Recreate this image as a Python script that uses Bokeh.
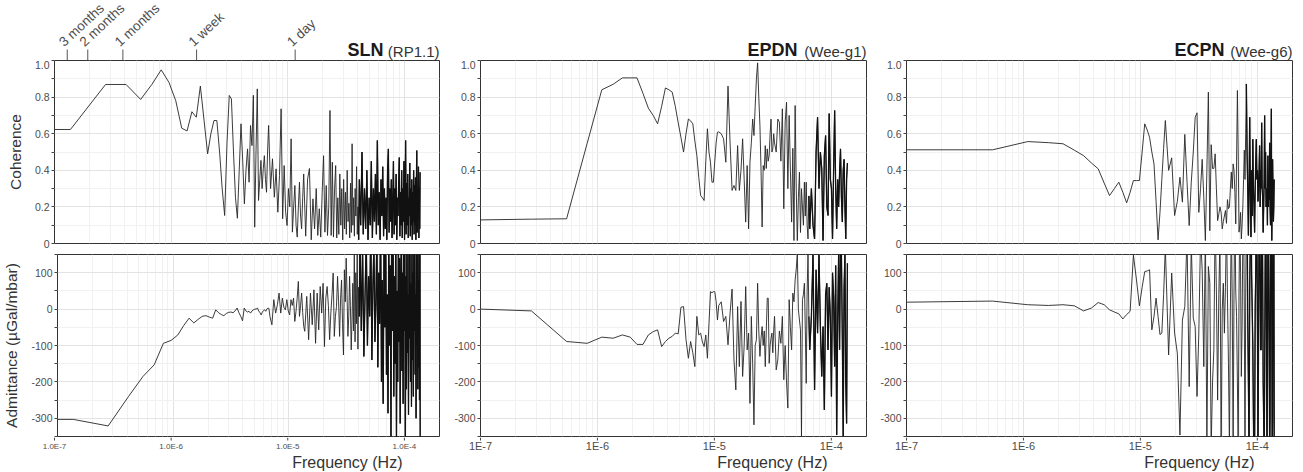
import math
from bokeh.plotting import figure
from bokeh.layouts import column, row
from bokeh.models import Range1d, FixedTicker, CustomJSTickFormatter
from bokeh.core.properties import value
from bokeh.embed import file_html
from bokeh.resources import INLINE

FONT = "Liberation Sans"
LINE = "#262626"
TXT = "#4d4d4d"

# ---------------- axis definitions ----------------
decade_ticks = [1e-7, 1e-6, 1e-5, 1e-4]
minor_mult = [2, 3, 4, 5, 6, 7, 8, 9]
period_days = [90, 60, 30, 7, 1]
period_labels = ["3 months", "2 months", "1 months", "1 week", "1 day"]
coh_ticks = [0, 0.2, 0.4, 0.6, 0.8, 1.0]
coh_minor = [0.1, 0.3, 0.5, 0.7, 0.9]
adm_ticks = [-300, -200, -100, 0, 100]
adm_minor = [-350, -250, -150, -50, 50, 150]

# ---------------- SLN (RP1.1) ----------------
sln_df = 1.37e-7
sln_k = [0.73] + list(range(1, 51)) + list(range(52, 101, 2)) + list(range(104, 301, 4)) + list(range(308, 1000, 8))
sln_coh = [0.623,
    0.623, 0.869, 0.869, 0.787, 0.87, 0.949, 0.88, 0.78, 0.63, 0.615,
    0.72, 0.69, 0.86, 0.67, 0.49, 0.6, 0.672, 0.672, 0.5, 0.3,
    0.153, 0.55, 0.809, 0.79, 0.5, 0.25, 0.138, 0.4, 0.654, 0.45,
    0.217, 0.4, 0.517, 0.335, 0.645, 0.535, 0.81, 0.089, 0.5, 0.845,
    0.235, 0.35, 0.454, 0.3, 0.408, 0.48, 0.35, 0.28, 0.5, 0.645,
    0.3, 0.463, 0.253, 0.408, 0.171, 0.372, 0.736, 0.135, 0.426, 0.171,
    0.098, 0.3, 0.2, 0.572, 0.062, 0.2, 0.317, 0.1, 0.035, 0.2,
    0.335, 0.15, 0.08, 0.25, 0.38,
    0.04, 0.353, 0.41, 0.02, 0.244, 0.08, 0.3, 0.044, 0.19, 0.035,
    0.28, 0.48, 0.062, 0.317, 0.044, 0.2, 0.727, 0.044, 0.444, 0.035,
    0.3, 0.426, 0.03, 0.25, 0.05, 0.38, 0.1, 0.3, 0.02, 0.35,
    0.08, 0.28, 0.05, 0.4, 0.12, 0.22, 0.03, 0.33, 0.06, 0.545,
    0.1, 0.25, 0.04, 0.3, 0.15, 0.42, 0.05, 0.2, 0.02, 0.35,
    0.1, 0.5, 0.05, 0.3, 0.08, 0.4, 0.02, 0.25, 0.1, 0.45,
    0.03, 0.3, 0.12, 0.38, 0.05, 0.563, 0.1, 0.28, 0.02, 0.35,
    0.15, 0.42, 0.04, 0.3, 0.08, 0.25, 0.02, 0.4, 0.517, 0.06,
    0.3, 0.12, 0.35, 0.03, 0.22, 0.45, 0.05, 0.3, 0.1, 0.38,
    0.02, 0.25, 0.15, 0.33, 0.47, 0.04, 0.28, 0.1, 0.4, 0.03,
    0.3, 0.12, 0.45, 0.02, 0.26, 0.563, 0.05, 0.33, 0.1, 0.38,
    0.03, 0.25, 0.15, 0.44, 0.04, 0.3, 0.1, 0.35, 0.02, 0.28,
    0.12, 0.4, 0.05, 0.32, 0.1, 0.36, 0.02, 0.3, 0.508, 0.06,
    0.27, 0.14, 0.42, 0.03, 0.3, 0.08, 0.39]
sln_adm = [-303,
    -303, -321, -240, -185, -153, -94, -86, -71, -45, -25,
    -38, -28, -20, -18, -22, -25, -2, -10, -15, -18,
    -12, -9, -8, -10, -5, 3, -10, -20, -32, 3,
    -5, -8, -6, -11, -5, -2, 0, 0, 3, -5,
    -10, -16, -8, -4, -2, -6, 0, 3, 2, -20,
    -43, 26, -11, 12, 44, -11, 30, 5, -2, 26,
    -5, -16, 26, 10, 30, -34, -6, 30, 76, -20,
    10, 44, -10, -48, -61,
    35, -84, 44, -43, 53, -94, 44, -57, 62, -11,
    71, -103, 30, 62, 10, -84, -11, 40, 99, -75,
    -20, 7, 90, 20, -75, 30, 80, -40, -126, 108,
    20, 140, 40, -75, -20, 90, 10, -112, -30, 71,
    -60, 160, -90, 100, -40, 180, -110, 60, -20, 200,
    -60, 170, -130, 40, 200, -100, 90, -20, 250, -140,
    60, 180, -90, 20, 220, -160, 100, -40, 300, -200,
    80, -260, 160, -50, 250, -180, 40, -286, 200, -100,
    120, -350, 300, -60, 180, -240, 90, -150, 260, -380,
    50, -200, 220, -90, 140, -314, 30, 280, -170, 100,
    -260, 200, -60, 160, -380, 90, -220, 300, -120, 40,
    -290, 250, -80, 150, -200, 70, -268, 220, -140, 100,
    -240, 180, -60, 260, -180, 40, -300, 150, -100, 200,
    -220, 80, -160, 240, -250, 400, -600]

# ---------------- EPDN (Wee-g1) ----------------
epdn_df = 2.725e-7
epdn_k = [0.367] + list(range(1, 41)) + list(range(42, 121, 2)) + list(range(124, 241, 4)) + list(range(248, 505, 8))
epdn_coh = [0.129,
    0.133, 0.135, 0.548, 0.84, 0.87, 0.905, 0.905, 0.905, 0.82, 0.74,
    0.7, 0.654, 0.75, 0.85, 0.84, 0.827, 0.75, 0.66, 0.58, 0.5,
    0.6, 0.68, 0.67, 0.654, 0.56, 0.48, 0.36, 0.262, 0.25, 0.235,
    0.45, 0.627, 0.5, 0.444, 0.335, 0.335, 0.45, 0.55, 0.608, 0.61,
    0.6, 0.572, 0.444, 0.86, 0.55, 0.29, 0.317, 0.29, 0.535, 0.29,
    0.4, 0.572, 0.35, 0.117, 0.426, 0.08, 0.444, 0.55, 0.68, 0.59,
    0.75, 0.9, 0.987, 0.8, 0.645, 0.4, 0.09, 0.426, 0.4, 0.535,
    0.41, 0.517, 0.45, 0.48, 0.6, 0.68, 0.5, 0.517, 0.6, 0.55,
    0.5, 0.68, 0.663, 0.45, 0.736, 0.19, 0.663, 0.772, 0.3, 0.7,
    0.4, 0.117, 0.52, 0.016, 0.754, 0.3, 0.016, 0.25, 0.39, 0.06,
    0.3, 0.2, 0.1, 0.335, 0.15, 0.335, 0.1, 0.025, 0.26, 0.08,
    0.3, 0.1, 0.025, 0.5, 0.69, 0.3, 0.5, 0.41, 0.016, 0.48,
    0.59, 0.2, 0.153, 0.71, 0.35, 0.3, 0.025, 0.4, 0.727, 0.3,
    0.08, 0.35, 0.2, 0.39, 0.517, 0.25, 0.117, 0.4, 0.46, 0.2,
    0.025, 0.35, 0.44]
epdn_adm = [0,
    -5, -89, -94, -77, -80, -71, -77, -97, -97, -71,
    -62, -57, -103, -89, -80, -75, -66, -68, 5, 7,
    -84, -135, -89, -120, -158, -20, -71, -66, -90, -103,
    -71, -135, -40, 48, 45, 48, 48, 21, -30, 10,
    20, -34, -20, -98, -11, 55, -140, -222, 7, -158,
    21, -185, -100, 62, -112, -66, -259, -20, -150, -318,
    -100, -84, 71, -60, -130, -80, -48, -100, -60, -158,
    -60, 30, 30, -149, -100, -80, -66, -120, -60, -20,
    -167, -140, -60, -94, -20, -194, -100, -200, -272, 26,
    -50, -112, 44, 20, 80, 110, 150, -2, -30, -57,
    -349, 26, 40, 71, -60, -204, 50, 150, -20, -112,
    -20, 150, -222, 108, -66, 150, -50, -185, -48, -277,
    40, 71, -112, 60, -20, -240, 100, 35, -158, 120,
    -346, -30, 150, -112, 200, 150, -80, -350, 60, 150,
    -200, -314, 126]

# ---------------- ECPN (Wee-g6) ----------------
ecpn_df = 5.45e-7
ecpn_k = [0.1835] + list(range(1, 31)) + list(range(32, 257, 2))
ecpn_coh = [0.512,
    0.512, 0.557, 0.551, 0.545, 0.51, 0.48, 0.44, 0.408, 0.33, 0.262,
    0.3, 0.335, 0.28, 0.222, 0.28, 0.344, 0.344, 0.344, 0.5, 0.654,
    0.62, 0.58, 0.5, 0.435, 0.23, 0.02, 0.17, 0.35, 0.52, 0.672,
    0.4, 0.468, 0.153, 0.23, 0.362, 0.226, 0.596, 0.335, 0.098, 0.335,
    0.5, 0.69, 0.714, 0.17, 0.3, 0.46, 0.25, 0.016, 0.4, 0.827,
    0.07, 0.54, 0.41, 0.41, 0.49, 0.3, 0.125, 0.16, 0.2, 0.17,
    0.08, 0.12, 0.15, 0.18, 0.11, 0.24, 0.19, 0.2, 0.3, 0.39,
    0.3, 0.435, 0.4, 0.28, 0.107, 0.45, 0.836, 0.5, 0.062, 0.1,
    0.17, 0.025, 0.1, 0.2, 0.35, 0.51, 0.35, 0.6, 0.872, 0.5,
    0.3, 0.044, 0.3, 0.69, 0.3, 0.035, 0.4, 0.15, 0.57, 0.3,
    0.2, 0.06, 0.3, 0.45, 0.57, 0.35, 0.4, 0.23, 0.3, 0.4,
    0.535, 0.2, 0.4, 0.3, 0.66, 0.3, 0.25, 0.06, 0.2, 0.35,
    0.7, 0.3, 0.5, 0.2, 0.23, 0.3, 0.1, 0.48, 0.2, 0.35,
    0.24, 0.55, 0.2, 0.1, 0.4, 0.736, 0.016, 0.25, 0.46, 0.3,
    0.12, 0.2, 0.35]
ecpn_adm = [19,
    22, 12, 10, 12, 9, -5, 3, 18, 12, -2,
    -8, -13, -27, -15, -6, 148, 80, 9, 60, 103,
    105, 108, -57, -20, 30, -20, -70, -66, 40, 170,
    -126, 99, -66, -121, -346, -30, 7, 200, -213, 180,
    -25, -48, -240, -66, 200, 108, -158, 220, -380, 117,
    71, -380, -200, -112, 250, 50, -250, 40, 200, -400,
    0, 71, -66, 60, 250, 30, -149, -380, 0, 250,
    30, -400, 50, 300, 50, -20, -200, -400, 50, 250,
    100, -185, -50, 200, 300, 0, -400, 20, 250, 300,
    -20, -200, -400, 50, 200, 400, 100, 0, -100, -300,
    -450, -400, 0, 100, 300, 200, -50, -400, -100, 250,
    300, 100, -112, -112, 250, 300, 100, -200, -300, -400,
    -200, 100, 300, 200, -100, -400, -200, 200, 350, 100,
    -100, -400, -300, 100, 250, 350, 0, -400, -300, 200,
    300, 400, -400]

# name, subtitle, df, k, coh, adm, title x-shift, freq-label x-shift, tick prefix,
# tick font size, tick label y, harmonic where the trace becomes dense
stations = [
    ("SLN", "(RP1.1)", sln_df, sln_k, sln_coh, sln_adm, -56, -37, "1.0E", "8px", 26, 300),
    ("EPDN", "(Wee-g1)", epdn_df, epdn_k, epdn_coh, epdn_adm, -69, -39, "1E", "11px", 27, 240),
    ("ECPN", "(Wee-g6)", ecpn_df, ecpn_k, ecpn_coh, ecpn_adm, -68, -38, "1E", "11px", 27, 150),
]

widths = [449, 427, 427]
lefts = [54, 31, 30]
rights = [10, 10, 11]
HEAD_H = 60
TOP_H = 188
BOT_H = 189
FOOT_H = 35
XR = (1e-7, 2e-4)
LOG_LO, LOG_HI = math.log10(XR[0]), math.log10(XR[1])

x_minor = [m * d for d in decade_ticks for m in minor_mult]


def strip_fig(i, h):
    # full-width strip sharing the panel's log scale (frame spans the whole strip)
    L = lefts[i]
    R = widths[i] - rights[i]
    ppd = (R - L) / (LOG_HI - LOG_LO)
    xr = Range1d(10 ** (LOG_LO - L / ppd), 10 ** (LOG_HI + (widths[i] - R) / ppd))
    s = figure(width=widths[i], height=h, x_axis_type="log", x_range=xr,
               y_range=Range1d(0, h), x_axis_location=None, y_axis_location=None,
               title_location=None, output_backend="svg", toolbar_location=None,
               min_border_left=0, min_border_right=0,
               min_border_top=0, min_border_bottom=0)
    s.outline_line_color = None
    s.grid.visible = False
    s.background_fill_color = "white"
    s.border_fill_color = "white"
    return s


def style_common(p, yt):
    p.outline_line_color = "#333333"
    p.outline_line_width = 1
    p.border_fill_color = "white"
    p.background_fill_color = "white"
    p.xgrid.ticker = FixedTicker(ticks=decade_ticks, minor_ticks=x_minor)
    p.ygrid.ticker = yt
    for g in (p.xgrid, p.ygrid):
        g.grid_line_color = "#e3e3e3"
        g.grid_line_width = 1
        g.minor_grid_line_color = "#f1f1f1"
        g.minor_grid_line_width = 1
    p.yaxis.ticker = yt
    p.yaxis.axis_line_color = None
    p.yaxis.major_tick_line_color = "#444444"
    p.yaxis.minor_tick_line_color = "#444444"
    p.yaxis.major_tick_in = 0
    p.yaxis.major_tick_out = 3
    p.yaxis.minor_tick_in = 0
    p.yaxis.minor_tick_out = 3
    p.yaxis.major_label_standoff = 2
    p.yaxis.major_label_text_font = FONT
    p.yaxis.major_label_text_font_size = "10.5px"
    p.yaxis.major_label_text_color = TXT
    p.yaxis.axis_label_text_font = FONT
    p.yaxis.axis_label_text_font_style = "normal"
    p.yaxis.axis_label_text_font_size = "15.5px"
    p.yaxis.axis_label_text_color = "#333333"
    p.yaxis.axis_label_standoff = 8


def draw_trace(p, ks, freq, vals, k_dense):
    n = min(len(freq), len(vals))
    p.line(freq[:n], vals[:n], line_color=LINE, line_width=0.9)
    idx = [j for j in range(n) if ks[j] >= k_dense]
    if idx:
        j0 = max(idx[0] - 1, 0)
        p.line(freq[j0:n], vals[j0:n], line_color="#111111", line_width=1.3)


MID = value("middle")
heads, tops, bots, feet = [], [], [], []
for i, (name, sub, df, ks, coh, adm, name_dx, freq_dx, tick_pre, tick_fs, tick_y, k_dense) in enumerate(stations):
    freq = [k * df for k in ks]

    # ---- header strip: station title (+ period axis on the first panel) ----
    h = strip_fig(i, HEAD_H)
    h.text(x=[XR[1]], y=[9.5], text=[sub], text_align=value("right"),
           text_baseline=MID, text_font=value(FONT),
           text_font_size=value("15px"), text_color="#333333")
    h.text(x=[XR[1]], y=[10.5], x_offset=name_dx, text=[name], text_align=value("right"),
           text_baseline=MID, text_font=value(FONT),
           text_font_size=value("18px"), text_font_style=value("bold"), text_color="#1a1a1a")
    if i == 0:
        pfreq = [1.0 / (d * 86400.0) for d in period_days]
        h.segment(x0=pfreq, y0=[0] * len(pfreq), x1=pfreq, y1=[11] * len(pfreq),
                  line_color="#555555", line_width=1)
        h.text(x=pfreq, y=[16.5] * len(pfreq), x_offset=-6, text=period_labels, angle=0.75,
               text_align=value("left"), text_baseline=MID,
               text_font=value(FONT), text_font_size=value("13.5px"), text_color=TXT)
    heads.append(h)

    # ---- coherence ----
    pt = figure(width=widths[i], height=TOP_H, x_axis_type="log",
                x_range=Range1d(*XR), y_range=Range1d(0, 1.0),
                x_axis_location=None, title_location=None,
                output_backend="svg", toolbar_location=None,
                min_border_left=lefts[i], min_border_right=rights[i],
                min_border_top=0, min_border_bottom=5)
    yt = FixedTicker(ticks=coh_ticks, minor_ticks=coh_minor)
    style_common(pt, yt)
    pt.yaxis.formatter = CustomJSTickFormatter(code="return tick == 0 ? '0' : tick.toFixed(1);")
    if i == 0:
        pt.yaxis.axis_label = "Coherence"
    draw_trace(pt, ks, freq, coh, k_dense)
    tops.append(pt)

    # ---- admittance ----
    pb = figure(width=widths[i], height=BOT_H, x_axis_type="log",
                x_range=Range1d(*XR), y_range=Range1d(-350, 150),
                x_axis_location=None, title_location=None,
                output_backend="svg", toolbar_location=None,
                min_border_left=lefts[i], min_border_right=rights[i],
                min_border_top=6, min_border_bottom=1)
    yt2 = FixedTicker(ticks=adm_ticks, minor_ticks=adm_minor)
    style_common(pb, yt2)
    pb.yaxis.formatter = CustomJSTickFormatter(code="return tick.toFixed(0);")
    if i == 0:
        pb.yaxis.axis_label = "Admittance (\u00b5Gal/mbar)"
    draw_trace(pb, ks, freq, adm, k_dense)
    bots.append(pb)

    # ---- footer strip: x ticks, tick labels, axis title ----
    f = strip_fig(i, FOOT_H)
    f.segment(x0=decade_ticks, y0=[FOOT_H] * 4, x1=decade_ticks, y1=[FOOT_H - 3] * 4,
              line_color="#444444", line_width=1)
    tick_text = [tick_pre + str(int(round(math.log10(t)))) for t in decade_ticks]
    f.text(x=decade_ticks, y=[tick_y] * 4, text=tick_text, text_align=value("center"),
           text_baseline=MID, text_font=value(FONT),
           text_font_size=value(tick_fs), text_color=TXT)
    f.text(x=[XR[1]], y=[10.5], x_offset=freq_dx, text=["Frequency (Hz)"],
           text_align=value("right"), text_baseline=MID,
           text_font=value(FONT), text_font_size=value("16px"), text_color="#333333")
    feet.append(f)

layout = column(row(*heads), row(*tops), row(*bots), row(*feet))
open("out.html", "w").write(file_html(layout, INLINE))
